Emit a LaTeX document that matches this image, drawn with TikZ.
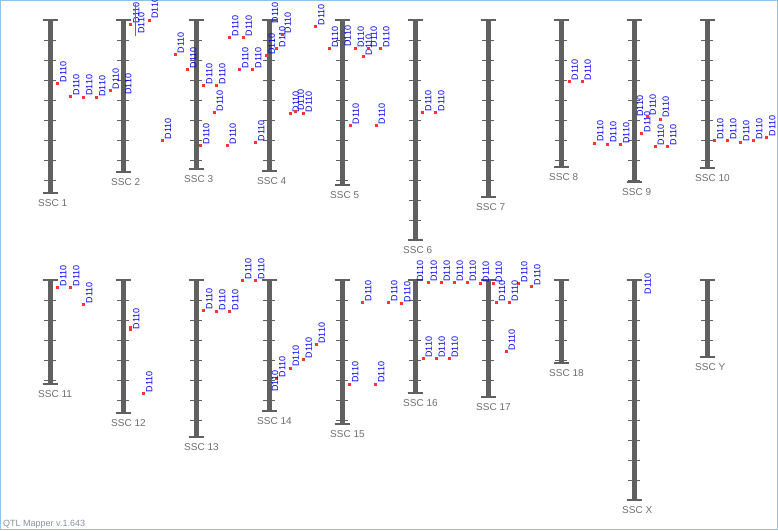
\documentclass[tikz,border=0pt]{standalone}
\usepackage{fontspec}
\setmainfont{Liberation Sans}
\usepackage{tikz}
\definecolor{chromgray}{HTML}{606060}
\definecolor{labelgray}{HTML}{6E6E6E}
\definecolor{qtlred}{HTML}{FF3333}
\definecolor{qtlblue}{HTML}{0000FF}
\definecolor{frameblue}{HTML}{8EC3EA}
\definecolor{versiongray}{HTML}{8592A0}
\tikzset{
  chrombar/.style = {line width = 5pt, chromgray},
  chromcap/.style = {line width = 1.5pt, chromgray},
  chromtick/.style = {line width = 1pt, chromgray},
  chromlabel/.style = {anchor = west, inner sep = 0pt, text = labelgray, font = \fontsize{10}{12}\selectfont},
  qtlmark/.style = {fill = qtlred, inner sep = 0pt, minimum width = 3pt, minimum height = 3pt},
  qtltext/.style = {rotate = 90, anchor = north west, inner sep = 0pt, text = qtlblue, font = \fontsize{9}{10}\selectfont},
  versiontext/.style = {anchor = base west, inner sep = 0pt, text = versiongray, font = \fontsize{9}{10}\selectfont}
}
% chromosome: name, x, top, bottom
\newcommand{\chromosome}[4]{%
  \coordinate (ssc#1-top) at (#2,#3);
  \coordinate (ssc#1-bot) at (#2,#4);
  \draw[chrombar] (ssc#1-top) -- (ssc#1-bot);
  \draw[chromcap] ([xshift = -7.5pt]ssc#1-top) -- ([xshift = 7.5pt]ssc#1-top);
  \draw[chromcap] ([xshift = -7.5pt]ssc#1-bot) -- ([xshift = 7.5pt]ssc#1-bot);
  \pgfmathtruncatemacro{\nticks}{(#4-#3-1)/20}
  \foreach \k in {1,...,\nticks} {\draw[chromtick] ({#2-6},{#3+20*\k}) -- ({#2+6},{#3+20*\k});}
  \node[chromlabel] (ssc#1) at ({#2-12},{#4+10}) {SSC #1};
}
% qtl: name, x, y
\newcommand{\qtl}[3]{%
  \node[qtlmark] (#1) at (#2,#3) {};
  \node[qtltext] (#1-txt) at ({#2+2.3},{#3-1}) {D110};
}
\newcommand{\qtlname}[3]{\node[qtltext] (#1-txt) at ({#2+2.3},{#3-1}) {D110};}

\begin{document}
\begin{tikzpicture}[x = 1pt, y = -1pt]
\useasboundingbox (0,0) rectangle (778,530);
\draw[frameblue, line width = 1pt] (0.5,0.5) rectangle (777.5,529.5);
% top row
\chromosome{1}{50}{20}{193}
\chromosome{2}{123}{20}{172}
\chromosome{3}{196}{20}{169}
\chromosome{4}{269}{20}{171}
\chromosome{5}{342}{20}{185}
\chromosome{6}{415}{20}{240}
\chromosome{7}{488}{20}{197}
\chromosome{8}{561}{20}{167}
\chromosome{9}{634}{20}{182}
\chromosome{10}{707}{20}{168}
% bottom row
\chromosome{11}{50}{280}{384}
\chromosome{12}{123}{280}{413}
\chromosome{13}{196}{280}{437}
\chromosome{14}{269}{280}{411}
\chromosome{15}{342}{280}{424}
\chromosome{16}{415}{280}{393}
\chromosome{17}{488}{280}{397}
\chromosome{18}{561}{280}{363}
\chromosome{X}{634}{280}{500}
\chromosome{Y}{707}{280}{357}
% markers
\foreach \mx/\my [count = \q] in {57.7/83.3, 70.7/96.3, 83.7/97, 96.7/97.7, 110/90.3,
  130.7/24.3, 149/20, 162.3/140.3, 175/54.3, 187.7/69.3,
  203.7/85.3, 216.7/85.3, 214/112.3, 200.7/145.3, 227/145.3, 229.7/37.3, 243/37.3, 239.7/69.3, 252.7/69.3, 255.7/142.3,
  266/55.7, 276.7/48.3, 282/34.3, 290/113.3, 295/111.7, 303/113.3, 315.7/26.3,
  329.3/48.7, 355/48.7, 363/56.3, 368/48.3, 380.7/48.7, 350/125.3, 376/125.3,
  422.7/112.3, 435.7/112.3,
  569/81.3, 582/81.3, 594.7/143, 607.7/144, 620.7/144.7,
  641.7/133.3, 647/116.3, 660/119, 655/146.3, 667.7/146.3,
  714.7/140.7, 727.7/140.7, 740.7/142.3, 753.7/140.7, 766.7/137.3}
  {\qtl{qa\q}{\mx}{\my}}
\foreach \mx/\my [count = \q] in {57.7/287.3, 70.7/287.3, 83.7/304.3, 143.7/393.3,
  203.7/310.3, 216.7/311.3, 229.7/311.3, 242.7/280.3, 255.7/280.3,
  276.7/378.3, 290/368, 303/359.3, 316/344.7,
  349.7/384, 362.7/302.3, 375.7/384, 388.7/302.3, 401.7/303.3,
  428/282.7, 441/282.7, 454/282.7, 467/282.7, 480/283.3, 493/283.3, 518.7/283.3, 531.7/286.3,
  496.3/302.3, 509/302.3, 506/351.3, 423/358.7, 436/358.7, 449/358.7}
  {\qtl{qb\q}{\mx}{\my}}
\node[qtlmark, minimum height = 5pt] (qc0) at (130.7,328.7) {};
\node[qtltext] (qc0-txt) at (133,329.5) {D110};
\foreach \mx/\my [count = \q] in {122.7/96, 269.4/24.3, 342/47.7, 634.4/117.7,
  269.4/392.7, 414.4/282.7, 642/295.3, 135.7/35}
  {\qtlname{qc\q}{\mx}{\my}}
\draw[qtlred, line width = 1.5pt] (135.7,3.5) -- (135.7,35.7);
\node[versiontext] (version) at (3,526) {QTL Mapper v.1.643};
\end{tikzpicture}
\end{document}
